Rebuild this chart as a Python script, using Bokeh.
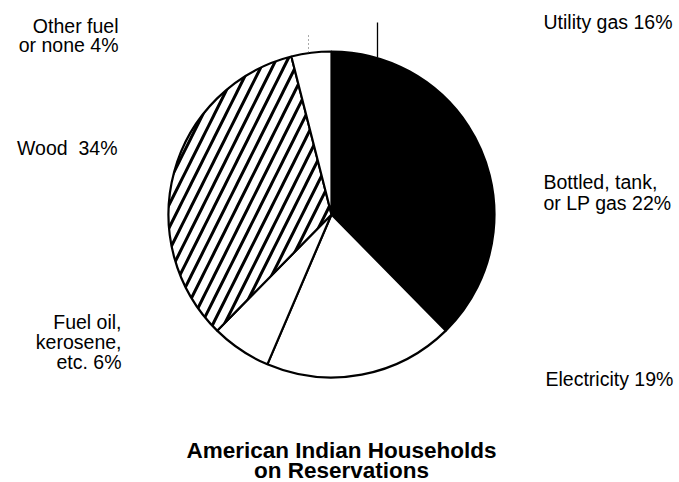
import math
from bokeh.plotting import figure
from bokeh.models import Range1d, ColumnDataSource
from bokeh.embed import file_html
from bokeh.resources import INLINE
from bokeh.core.properties import value

# ---- data ----
categories = ["Utility gas", "Bottled, tank, or LP gas", "Electricity",
              "Fuel oil, kerosene, etc.", "Wood", "Other fuel or none"]
shares = [16, 22, 19, 6, 34, 4]
fills = ["black", "black", "white", "white", "white", "white"]
hatches = [" ", " ", " ", " ", "/", " "]
label_lines = [
    ["Utility gas 16%"],
    ["Bottled, tank,", "or LP gas 22%"],
    ["Electricity 19%"],
    ["Fuel oil,", "kerosene,", "etc. 6%"],
    ["Wood\u00a0 34%"],
    ["Other fuel", "or none 4%"],
]
title_lines = ["American Indian Households", "on Reservations"]

# ---- layout (screen pixel coordinates of the page) ----
W, H = 679, 482
def Y(sy):
    return H - sy

cx, cy, r = 331, 214, 163
DY = -7  # baseline correction for the svg text renderer
# label anchor: (x, first baseline, align, line spacing)
label_pos = [
    (543, 28, "left", 20),
    (543, 188, "left", 21),
    (545, 385, "left", 20),
    (121, 328, "right", 20),
    (117, 154, "right", 20),
    (118, 32, "right", 19.5),
]
title_pos = (341, 457, 20)

p = figure(width=W, height=H, output_backend="svg", toolbar_location=None,
           x_range=Range1d(0, W), y_range=Range1d(0, H),
           x_axis_location=None, y_axis_location=None, min_border=0,
           background_fill_color="white", border_fill_color="white",
           outline_line_color=None, match_aspect=False)
p.grid.visible = False

total = float(sum(shares))
starts, ends = [], []
cum = 0.0
for v in shares:
    starts.append(math.pi / 2 - 2 * math.pi * cum / total)
    cum += v
    ends.append(math.pi / 2 - 2 * math.pi * cum / total)

src = ColumnDataSource(dict(
    cat=categories, share=shares, start=starts, end=ends,
    fill=fills, hatch=hatches,
    x=[cx] * len(shares), y=[Y(cy)] * len(shares),
))
p.wedge(x="x", y="y", radius=r, start_angle="start", end_angle="end",
        direction="clock", source=src, fill_color="fill",
        line_color="black", line_width=2.2,
        hatch_pattern="hatch", hatch_color="black", hatch_weight=3,
        hatch_scale=23)

# faint leader ticks above the pie
p.segment(x0=[377], y0=[Y(22)], x1=[377], y1=[Y(57)], line_color="black",
          line_width=1.3)
p.segment(x0=[308], y0=[Y(35)], x1=[308], y1=[Y(52)], line_color="#555555",
          line_width=1, line_dash="1 3")

# labels
tx, ty, tt, ta = [], [], [], []
for lines, (ax, by, al, sp) in zip(label_lines, label_pos):
    for i, line in enumerate(lines):
        tx.append(ax)
        ty.append(Y(by + DY + i * sp))
        tt.append(line)
        ta.append(al)
p.text(x=tx, y=ty, text=tt, text_align=ta, text_baseline="alphabetic",
       text_font=value("Liberation Sans"), text_font_size="19.5px",
       text_color="black")

# title
p.text(x=[title_pos[0]] * len(title_lines),
       y=[Y(title_pos[1] + DY + i * title_pos[2]) for i in range(len(title_lines))],
       text=title_lines, text_align="center", text_baseline="alphabetic",
       text_font=value("Liberation Sans"), text_font_size="22.5px",
       text_font_style="bold", text_color="black")

open("out.html", "w").write(file_html(p, INLINE))
